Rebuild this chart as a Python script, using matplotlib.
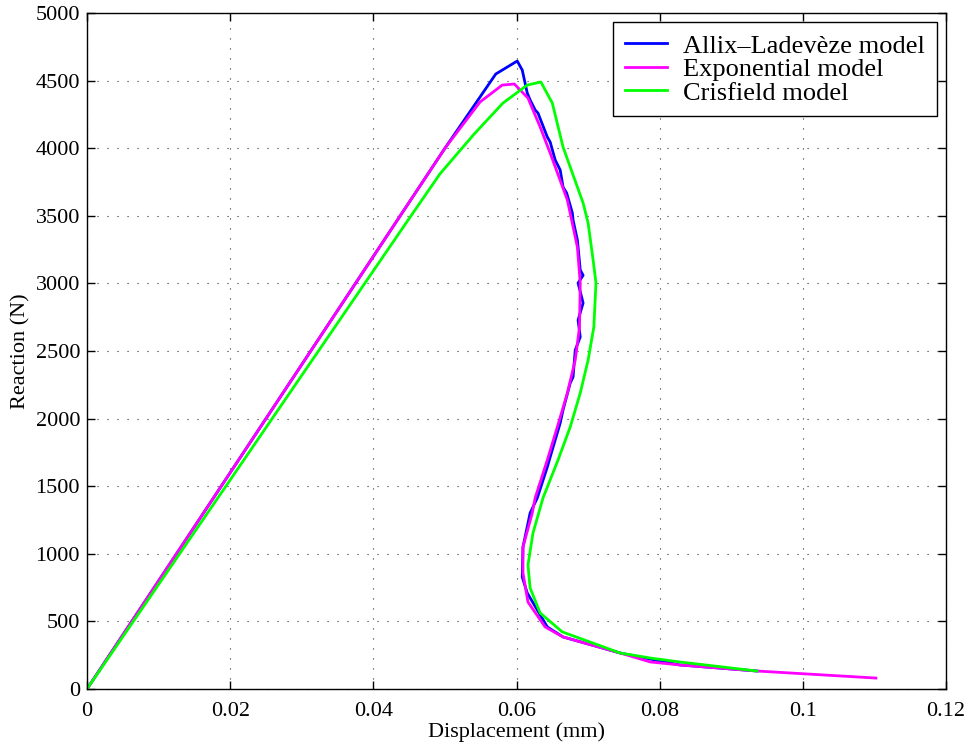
import numpy as np
import matplotlib.pyplot as plt

plt.rcParams['font.family'] = ['Liberation Serif', 'DejaVu Serif']

# Réponse force-déplacement des trois modèles d'interface
# deplacement en mm, reaction en N

x_allix = [0.0, 0.050, 0.0571, 0.0601, 0.0608, 0.0615, 0.0619, 0.0626, 0.0630,
           0.0643, 0.0647, 0.0654, 0.0661, 0.0665, 0.0670, 0.0678, 0.0679,
           0.0685, 0.0686, 0.0689, 0.0693, 0.0686, 0.0693, 0.0686, 0.0689,
           0.0682, 0.0679, 0.0675, 0.0665, 0.0661, 0.0647, 0.0643, 0.0629,
           0.0619, 0.0609, 0.0608, 0.0615, 0.0643, 0.0665, 0.0745, 0.0828,
           0.0936]
y_allix = [0, 4000, 4549, 4645, 4578, 4408, 4357, 4283, 4260,
           4083, 4046, 3913, 3839, 3713, 3669, 3521, 3469,
           3321, 3269, 3099, 3060, 3003, 2855, 2729, 2604,
           2507, 2308, 2263, 2064, 1967, 1716, 1642, 1413,
           1302, 1050, 828, 710, 459, 385, 266, 178,
           133]

x_expo = [0.0, 0.050, 0.0549, 0.0580, 0.0597, 0.0616, 0.0633, 0.0647, 0.0671,
          0.0685, 0.0689, 0.0688, 0.0682, 0.0671, 0.0657, 0.0643, 0.0626,
          0.0622, 0.0609, 0.0609, 0.0616, 0.0640, 0.0665, 0.0745, 0.0787,
          0.0828, 0.0936, 0.1102]
y_expo = [0, 4000, 4342, 4467, 4475, 4371, 4157, 3964, 3617,
          3269, 3003, 2678, 2433, 2189, 1938, 1694, 1413,
          1302, 1050, 858, 643, 459, 385, 266, 200,
          178, 133, 81]

x_cris = [0.0, 0.045, 0.0493, 0.0540, 0.0581, 0.0615, 0.0634, 0.0650, 0.0665,
          0.0693, 0.0700, 0.0707, 0.0711, 0.0708, 0.0700, 0.0689, 0.0675,
          0.0658, 0.0637, 0.0623, 0.0616, 0.0619, 0.0633, 0.0664, 0.0745,
          0.0787, 0.0828, 0.0936]
y_cris = [0, 3480, 3810, 4100, 4334, 4467, 4490, 4334, 4009,
          3595, 3447, 3173, 3003, 2678, 2433, 2189, 1938,
          1694, 1413, 1154, 917, 747, 562, 422, 266,
          229, 200, 133]

fig = plt.figure(figsize=(9.7, 7.49), dpi=100)
ax = fig.add_axes([0.0897, 0.0801, 0.8856, 0.9025])

ax.plot(x_allix, y_allix, color=(0, 0, 1), lw=2, label=u'Allix\u2013Ladev\u00e8ze model')
ax.plot(x_expo, y_expo, color=(1, 0, 1), lw=2, label=u'Exponential model')
ax.plot(x_cris, y_cris, color=(0, 1, 0), lw=2, label=u'Crisfield model')

ax.set_xlim(0, 0.12)
ax.set_ylim(0, 5000)
ax.set_xticks(np.arange(0, 0.121, 0.02))
ax.set_xticklabels(['0', '0.02', '0.04', '0.06', '0.08', '0.1', '0.12'])
ax.set_yticks(np.arange(0, 5001, 500))

ax.grid(True, color='#303030', linestyle=(0, (1, 8)), lw=0.8)
ax.tick_params(direction='in', top=True, right=True, labelsize=16, length=6, width=1)
ax.tick_params(axis='x', pad=9)
ax.tick_params(axis='y', pad=5)
for s in ax.spines.values():
    s.set_linewidth(1)

ax.set_xlabel('Displacement (mm)', fontsize=16, labelpad=1)
ax.set_ylabel('Reaction (N)', fontsize=16, labelpad=4)

leg = ax.legend(loc='upper right', fontsize=19, fancybox=False, framealpha=1,
                edgecolor='black', borderaxespad=0.35, handlelength=1.6,
                handletextpad=0.6, labelspacing=0.0, borderpad=0.45)
leg.get_frame().set_linewidth(1)

plt.savefig('out.png', dpi=100)
